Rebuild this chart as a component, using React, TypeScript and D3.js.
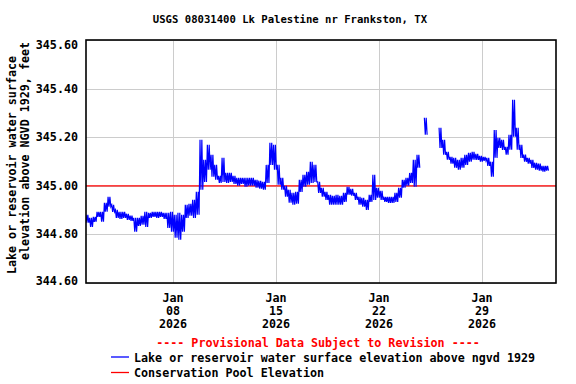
import React from 'react';
import * as d3 from 'd3';

// readings every 6 hours starting Jan 2 2026 02:00; upper and lower value seen in each 6 h window
const startTime = new Date(2026, 0, 2, 2, 0);
const endTime = new Date(2026, 1, 3, 0, 45);
const stepHours = 6;

const highValues: (number | null)[] = [
  344.881, 344.868, 344.872, 344.893, 344.893, 344.930, 344.955, 344.922, 344.901, 344.893,
  344.893, 344.885, 344.877, 344.868, 344.868, 344.877, 344.893, 344.889, 344.893, 344.893,
  344.893, 344.889, 344.889, 344.893, 344.881, 344.889, 344.881, 344.922, 344.926, 344.942,
  344.975, 345.189, 345.107, 345.169, 345.128, 345.086, 345.041, 345.115, 345.053, 345.053,
  345.041, 345.033, 345.033, 345.033, 345.033, 345.033, 345.025, 345.021, 345.016, 345.086,
  345.177, 345.169, 345.086, 345.033, 345.000, 344.984, 344.971, 344.975, 345.025, 345.045,
  345.058, 345.099, 345.086, 345.016, 344.992, 344.975, 344.963, 344.959, 344.963, 344.959,
  344.971, 344.996, 344.988, 344.971, 344.955, 344.951, 344.942, 344.963, 345.045, 344.992,
  344.979, 344.955, 344.955, 344.955, 344.971, 344.992, 345.025, 345.033, 345.053, 345.107,
  345.128, null, 345.280, null, null, null, 345.239, 345.189, 345.140, 345.119,
  345.115, 345.107, 345.115, 345.128, 345.136, 345.140, 345.132, 345.123, 345.119, 345.115,
  345.099, 345.230, 345.198, 345.189, 345.160, 345.210, 345.354, 345.239, 345.169, 345.128,
  345.115, 345.107, 345.095, 345.091, 345.082, 345.082, null, null,
];

const lowValues: (number | null)[] = [
  344.848, 344.831, 344.852, 344.872, 344.852, 344.893, 344.914, 344.893, 344.868, 344.864,
  344.868, 344.860, 344.856, 344.811, 344.835, 344.840, 344.831, 344.868, 344.872, 344.868,
  344.872, 344.864, 344.827, 344.811, 344.786, 344.778, 344.811, 344.868, 344.877, 344.868,
  344.881, 344.984, 345.016, 345.066, 345.037, 345.025, 345.012, 345.016, 345.012, 345.016,
  345.008, 345.000, 345.008, 344.996, 345.000, 345.000, 344.992, 344.988, 344.984, 345.012,
  345.086, 345.066, 345.004, 344.984, 344.955, 344.930, 344.922, 344.926, 344.975, 344.996,
  345.004, 345.012, 345.016, 344.971, 344.955, 344.942, 344.922, 344.922, 344.922, 344.922,
  344.934, 344.963, 344.959, 344.942, 344.922, 344.914, 344.901, 344.934, 344.942, 344.951,
  344.942, 344.934, 344.930, 344.930, 344.934, 344.951, 344.992, 345.000, 345.012, 344.996,
  345.074, null, 345.210, null, null, null, 345.156, 345.128, 345.107, 345.091,
  345.074, 345.066, 345.074, 345.086, 345.099, 345.107, 345.107, 345.099, 345.103, 345.082,
  345.037, 345.115, 345.156, 345.148, 345.128, 345.148, 345.202, 345.148, 345.115, 345.099,
  345.091, 345.074, 345.066, 345.062, 345.058, 345.062, null, null,
];

const conservationPool = 345.0;
const yTicks = [344.6, 344.8, 345.0, 345.2, 345.4, 345.6];
const xTickDates = ['2026-01-08', '2026-01-15', '2026-01-22', '2026-01-29'];

const title = 'USGS 08031400 Lk Palestine nr Frankston, TX';
const yLabelLines = ['Lake or reservoir water surface', 'elevation above NGVD 1929, feet'];
const provisional = '---- Provisional Data Subject to Revision ----';
const legendItems = [
  { label: 'Lake or reservoir water surface elevation above ngvd 1929', color: '#0000ff' },
  { label: 'Conservation Pool Elevation', color: '#ff0000' },
];

const W = 576;
const H = 384;
const margin = { top: 40, right: 20, bottom: 101, left: 86 };
const FONT = '"DejaVu Sans Mono", monospace';
const FS = 11.7;

type Pt = { t: Date; v: number } | null;

export default function App() {
  const innerW = W - margin.left - margin.right;
  const innerH = H - margin.top - margin.bottom;

  const x = d3.scaleTime().domain([startTime, endTime]).range([margin.left, margin.left + innerW]);
  const y = d3.scaleLinear().domain([344.6, 345.6]).range([margin.top + innerH, margin.top]);

  const parse = d3.timeParse('%Y-%m-%d');
  const xTicks = xTickDates.map(s => parse(s) as Date);

  // zigzag between the high and low reading inside every window
  const hour = 3600 * 1000;
  const pts: Pt[] = [];
  highValues.forEach((hi, i) => {
    const lo = lowValues[i];
    const t0 = startTime.getTime() + i * stepHours * hour;
    if (hi == null || lo == null) {
      pts.push(null);
      return;
    }
    pts.push({ t: new Date(t0), v: hi });
    pts.push({ t: new Date(t0 + 1.5 * hour), v: lo });
    pts.push({ t: new Date(t0 + 3 * hour), v: hi });
    pts.push({ t: new Date(t0 + 4.5 * hour), v: lo });
  });

  const line = d3.line<Pt>()
    .defined(d => d != null)
    .x(d => x(d!.t))
    .y(d => y(d!.v));

  const plotCx = margin.left + innerW / 2;

  return (
    <svg width={W} height={H} style={{ position: 'absolute', left: 0, top: 0, background: '#fff' }}
      fontFamily={FONT} fontWeight="bold">
      <rect x={0} y={0} width={W} height={H} fill="#fff" />
      <text x={290} y={23} fontSize={10.6} textAnchor="middle" fill="#000">{title}</text>

      {/* grid */}
      {yTicks.map(t => (
        <line key={'gy' + t} x1={margin.left} x2={margin.left + innerW} y1={Math.round(y(t)) + 0.5} y2={Math.round(y(t)) + 0.5}
          stroke="#cccccc" strokeWidth={1} />
      ))}
      {xTicks.map(t => (
        <line key={'gx' + t.getTime()} x1={Math.round(x(t)) + 0.5} x2={Math.round(x(t)) + 0.5} y1={margin.top} y2={margin.top + innerH}
          stroke="#cccccc" strokeWidth={1} />
      ))}

      {/* conservation pool */}
      <line x1={margin.left} x2={margin.left + innerW} y1={y(conservationPool)} y2={y(conservationPool)}
        stroke="#ff0000" strokeWidth={1.3} />

      <clipPath id="plotClip">
        <rect x={margin.left} y={margin.top} width={innerW} height={innerH} />
      </clipPath>
      <path d={line(pts) || ''} fill="none" stroke="#0000ff" strokeWidth={1.2} clipPath="url(#plotClip)" />

      <rect x={margin.left} y={margin.top} width={innerW} height={innerH} fill="none" stroke="#000" strokeWidth={1.6} />

      {/* y tick labels */}
      {yTicks.map(t => (
        <text key={'yl' + t} x={78} y={Math.min(Math.max(y(t) + 4, 48.5), 285)} fontSize={FS} textAnchor="end" fill="#000">
          {d3.format('.2f')(t)}
        </text>
      ))}

      {/* x tick labels */}
      {xTicks.map(t => (
        <text key={'xl' + t.getTime()} x={x(t)} fontSize={FS} textAnchor="middle" fill="#000">
          <tspan x={x(t)} y={302}>{d3.timeFormat('%b')(t)}</tspan>
          <tspan x={x(t)} y={315}>{d3.timeFormat('%d')(t)}</tspan>
          <tspan x={x(t)} y={328}>{d3.timeFormat('%Y')(t)}</tspan>
        </text>
      ))}

      {/* y axis title */}
      <text transform="translate(16,165) rotate(-90)" fontSize={FS} textAnchor="middle" fill="#000">{yLabelLines[0]}</text>
      <text transform="translate(28.5,151) rotate(-90)" fontSize={FS} textAnchor="middle" fill="#000">{yLabelLines[1]}</text>

      <text x={plotCx - 3} y={347} fontSize={FS} textAnchor="middle" fill="#ff0000">{provisional}</text>

      {legendItems.map((item, i) => (
        <g key={item.label} transform={`translate(0,${357 + i * 15.5})`}>
          <line x1={111} x2={129} y1={0} y2={0} stroke={item.color} strokeWidth={1.3} />
          <text x={134} y={4.5} fontSize={FS} fill="#000">{item.label}</text>
        </g>
      ))}
    </svg>
  );
}
